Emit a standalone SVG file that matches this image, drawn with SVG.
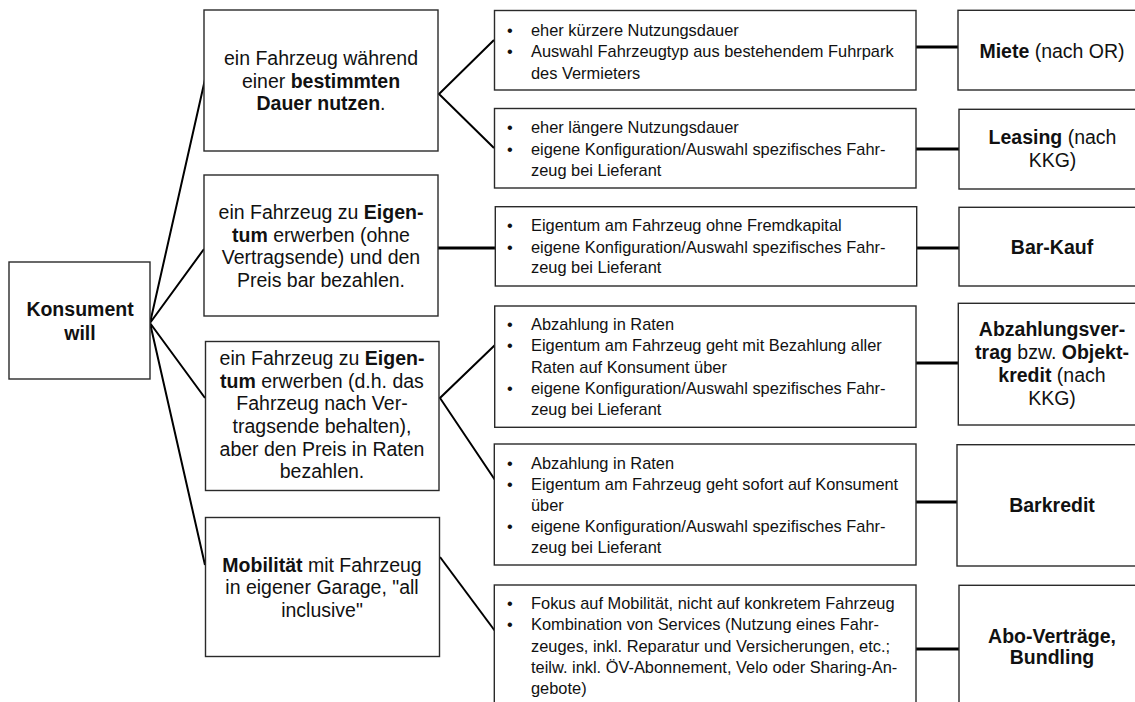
<svg xmlns="http://www.w3.org/2000/svg" width="1135" height="702" viewBox="0 0 1135 702">
<style>
  .box { fill: #fff; stroke: #2a2a2a; stroke-width: 1.4; }
  .t { font-family: "Liberation Sans", Arial, sans-serif; fill: #111; }
  .c { font-size: 19.5px; text-anchor: middle; }
  .s { font-size: 16.4px; }
  .b { font-weight: bold; }
  .fork { stroke: #000; stroke-width: 2; fill: none; }
  .bar { stroke: #000; stroke-width: 3.2; fill: none; }
</style>
<rect width="1135" height="702" fill="#fff"/>

<g id="connectors">
  <path class="fork" d="M150,323 L206,75 M150,323 L204,249 M150,323 L205,398 M150,323 L205,565"/>
  <path class="fork" d="M494,40 L439,94 L494,148"/>
  <path class="fork" d="M495,345 L440,398 L495,480"/>
  <path class="fork" d="M440,557 L495,631"/>
  <path class="bar" d="M438,248 L495,248"/>
  <path class="bar" d="M916,47 L958,47 M916,149 L959,149 M917,248 L959,248 M916,363 L958,363 M916,502 L957,502 M916,649 L959,649"/>
</g>

<g id="n-konsument">
  <rect class="box" x="9" y="262" width="141" height="117"/>
  <text class="t c b" x="80" y="316">Konsument</text>
  <text class="t c b" x="80" y="340">will</text>
</g>

<g id="n-nutzen">
  <rect class="box" x="204" y="10" width="234" height="141"/>
  <text class="t c" x="321" y="65">ein Fahrzeug während</text>
  <text class="t c" x="321" y="87.5">einer <tspan class="b">bestimmten</tspan></text>
  <text class="t c" x="321" y="110"><tspan class="b">Dauer nutzen</tspan>.</text>
</g>

<g id="n-eigentum-bar">
  <rect class="box" x="204" y="175" width="234" height="141"/>
  <text class="t c" x="321" y="219.3">ein Fahrzeug zu <tspan class="b">Eigen-</tspan></text>
  <text class="t c" x="321" y="241.8"><tspan class="b">tum</tspan> erwerben (ohne</text>
  <text class="t c" x="321" y="264.3">Vertragsende) und den</text>
  <text class="t c" x="321" y="286.7">Preis bar bezahlen.</text>
</g>

<g id="n-eigentum-raten">
  <rect class="box" x="205.5" y="341.5" width="233.5" height="149"/>
  <text class="t c" x="322" y="365">ein Fahrzeug zu <tspan class="b">Eigen-</tspan></text>
  <text class="t c" x="322" y="387.7"><tspan class="b">tum</tspan> erwerben (d.h. das</text>
  <text class="t c" x="322" y="410.4">Fahrzeug nach Ver-</text>
  <text class="t c" x="322" y="433">tragsende behalten),</text>
  <text class="t c" x="322" y="455.7">aber den Preis in Raten</text>
  <text class="t c" x="322" y="478.3">bezahlen.</text>
</g>

<g id="n-mobilitaet">
  <rect class="box" x="205.5" y="517.5" width="234" height="139"/>
  <text class="t c" x="322" y="571.7"><tspan class="b">Mobilität</tspan> mit Fahrzeug</text>
  <text class="t c" x="322" y="594.3">in eigener Garage, "all</text>
  <text class="t c" x="322" y="616.7">inclusive"</text>
</g>

<g id="n-m1">
  <rect class="box" x="494.5" y="10.5" width="421.5" height="79.5"/>
  <text class="t s" x="507" y="35.7">•</text>
  <text class="t s" x="531" y="35.7">eher kürzere Nutzungsdauer</text>
  <text class="t s" x="507" y="57.2">•</text>
  <text class="t s" x="531" y="57.2">Auswahl Fahrzeugtyp aus bestehendem Fuhrpark</text>
  <text class="t s" x="531" y="78.5">des Vermieters</text>
</g>

<g id="n-m2">
  <rect class="box" x="494.5" y="108.5" width="421.5" height="79.5"/>
  <text class="t s" x="507" y="132.7">•</text>
  <text class="t s" x="531" y="132.7">eher längere Nutzungsdauer</text>
  <text class="t s" x="507" y="154.5">•</text>
  <text class="t s" x="531" y="154.5">eigene Konfiguration/Auswahl spezifisches Fahr-</text>
  <text class="t s" x="531" y="176">zeug bei Lieferant</text>
</g>

<g id="n-m3">
  <rect class="box" x="495.3" y="206.7" width="421.4" height="79.3"/>
  <text class="t s" x="507" y="230.5">•</text>
  <text class="t s" x="531" y="230.5">Eigentum am Fahrzeug ohne Fremdkapital</text>
  <text class="t s" x="507" y="252.5">•</text>
  <text class="t s" x="531" y="252.5">eigene Konfiguration/Auswahl spezifisches Fahr-</text>
  <text class="t s" x="531" y="273">zeug bei Lieferant</text>
</g>

<g id="n-m4">
  <rect class="box" x="494.7" y="306" width="421.3" height="121.3"/>
  <text class="t s" x="507" y="329.5">•</text>
  <text class="t s" x="531" y="329.5">Abzahlung in Raten</text>
  <text class="t s" x="507" y="351">•</text>
  <text class="t s" x="531" y="351">Eigentum am Fahrzeug geht mit Bezahlung aller</text>
  <text class="t s" x="531" y="372.5">Raten auf Konsument über</text>
  <text class="t s" x="507" y="394">•</text>
  <text class="t s" x="531" y="394">eigene Konfiguration/Auswahl spezifisches Fahr-</text>
  <text class="t s" x="531" y="415.3">zeug bei Lieferant</text>
</g>

<g id="n-m5">
  <rect class="box" x="494.3" y="444" width="421.7" height="121"/>
  <text class="t s" x="507" y="468.5">•</text>
  <text class="t s" x="531" y="468.5">Abzahlung in Raten</text>
  <text class="t s" x="507" y="489.8">•</text>
  <text class="t s" x="531" y="489.8">Eigentum am Fahrzeug geht sofort auf Konsument</text>
  <text class="t s" x="531" y="510.8">über</text>
  <text class="t s" x="507" y="532">•</text>
  <text class="t s" x="531" y="532">eigene Konfiguration/Auswahl spezifisches Fahr-</text>
  <text class="t s" x="531" y="553.3">zeug bei Lieferant</text>
</g>

<g id="n-m6">
  <rect class="box" x="494.3" y="585" width="421.7" height="130"/>
  <text class="t s" x="507" y="609.3">•</text>
  <text class="t s" x="531" y="609.3">Fokus auf Mobilität, nicht auf konkretem Fahrzeug</text>
  <text class="t s" x="507" y="630.3">•</text>
  <text class="t s" x="531" y="630.3">Kombination von Services (Nutzung eines Fahr-</text>
  <text class="t s" x="531" y="651.7">zeuges, inkl. Reparatur und Versicherungen, etc.;</text>
  <text class="t s" x="531" y="673.3">teilw. inkl. ÖV-Abonnement, Velo oder Sharing-An-</text>
  <text class="t s" x="531" y="694.3">gebote)</text>
</g>

<g id="n-miete">
  <rect class="box" x="958" y="10.3" width="190" height="79.7"/>
  <text class="t c" x="1052" y="58"><tspan class="b">Miete</tspan> (nach OR)</text>
</g>

<g id="n-leasing">
  <rect class="box" x="959" y="109.3" width="190" height="79.7"/>
  <text class="t c" x="1052.5" y="144"><tspan class="b">Leasing</tspan> (nach</text>
  <text class="t c" x="1052.5" y="166.7">KKG)</text>
</g>

<g id="n-barkauf">
  <rect class="box" x="959" y="207.3" width="190" height="78.7"/>
  <text class="t c b" x="1052" y="254.3">Bar-Kauf</text>
</g>

<g id="n-abzahlung">
  <rect class="box" x="958.3" y="303.3" width="190" height="121.7"/>
  <text class="t c" x="1052" y="335.7"><tspan class="b">Abzahlungsver-</tspan></text>
  <text class="t c" x="1052" y="358.7"><tspan class="b">trag</tspan> bzw. <tspan class="b">Objekt-</tspan></text>
  <text class="t c" x="1052" y="382.3"><tspan class="b">kredit</tspan> (nach</text>
  <text class="t c" x="1052" y="405">KKG)</text>
</g>

<g id="n-barkredit">
  <rect class="box" x="957" y="444.7" width="190" height="121.3"/>
  <text class="t c b" x="1052" y="512.3">Barkredit</text>
</g>

<g id="n-abo">
  <rect class="box" x="959" y="585.3" width="190" height="130"/>
  <text class="t c b" x="1052" y="643.3">Abo-Verträge,</text>
  <text class="t c b" x="1052" y="664.3">Bundling</text>
</g>
</svg>
